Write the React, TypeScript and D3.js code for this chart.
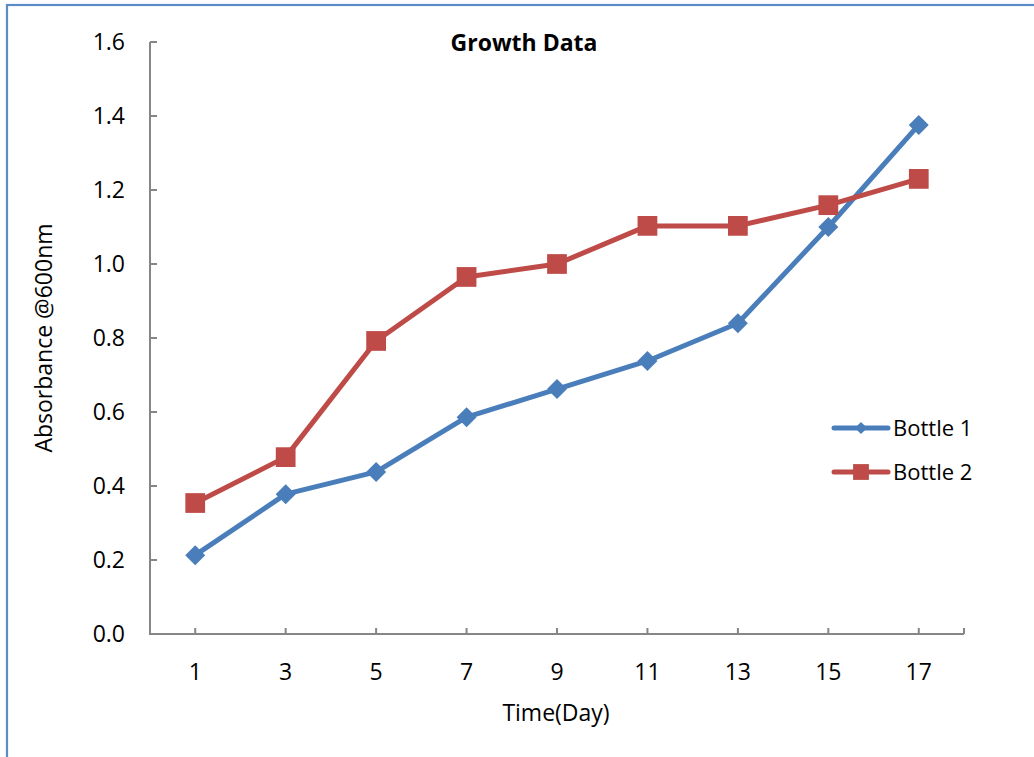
import React, { useRef, useEffect } from 'react';
import * as d3 from 'd3';

const days = ['1', '3', '5', '7', '9', '11', '13', '15', '17'];
const bottle1 = [0.213, 0.378, 0.438, 0.586, 0.662, 0.738, 0.84, 1.1, 1.376];
const bottle2 = [0.354, 0.478, 0.792, 0.965, 1.0, 1.103, 1.103, 1.159, 1.23];
const yTicks = [0, 0.2, 0.4, 0.6, 0.8, 1.0, 1.2, 1.4, 1.6];

const FONT = '"Open Sans", sans-serif';
const BLUE = '#4a7ebb';
const RED = '#be4b48';
const AXIS = '#868686';

const App = () => {
    const chart = useRef<SVGSVGElement>(null);

    useEffect(() => {
        const svg = d3.select(chart.current);
        svg.selectAll('*').remove();

        const left = 150, right = 964, top = 42, bottom = 634;

        // chart border
        svg.append('rect')
            .attr('x', 7).attr('y', 5)
            .attr('width', 1040).attr('height', 800)
            .attr('fill', 'white')
            .attr('stroke', '#5b8bc8')
            .attr('stroke-width', 2.2);

        const x = d3.scaleBand().domain(days).range([left, right]);
        const y = d3.scaleLinear().domain([0, 1.6]).range([bottom, top]);
        const cx = (d: string) => (x(d) as number) + x.bandwidth() / 2;

        // y axis
        const yAxis = svg.append('g');
        yAxis.append('line')
            .attr('x1', left).attr('x2', left)
            .attr('y1', y(1.6)).attr('y2', bottom)
            .attr('stroke', AXIS).attr('stroke-width', 2);
        yAxis.selectAll('.ytick')
            .data(yTicks)
            .enter()
            .append('line')
            .attr('x1', left).attr('x2', left + 7)
            .attr('y1', d => y(d)).attr('y2', d => y(d))
            .attr('stroke', AXIS).attr('stroke-width', 2);
        yAxis.selectAll('.ylab')
            .data(yTicks)
            .enter()
            .append('text')
            .attr('x', 125)
            .attr('y', d => y(d))
            .attr('dy', '0.36em')
            .attr('text-anchor', 'end')
            .style('font-family', FONT)
            .style('font-size', '23px')
            .text(d => d3.format('.1f')(d));

        // x axis
        const xAxis = svg.append('g');
        xAxis.append('line')
            .attr('x1', left - 1).attr('x2', right)
            .attr('y1', bottom).attr('y2', bottom)
            .attr('stroke', AXIS).attr('stroke-width', 2);
        xAxis.selectAll('.xtick')
            .data([...days.map(cx), right])
            .enter()
            .append('line')
            .attr('x1', d => d).attr('x2', d => d)
            .attr('y1', bottom).attr('y2', bottom - 6)
            .attr('stroke', AXIS).attr('stroke-width', 2);
        xAxis.selectAll('.xlab')
            .data(days)
            .enter()
            .append('text')
            .attr('x', d => cx(d))
            .attr('y', 680)
            .attr('text-anchor', 'middle')
            .style('font-family', FONT)
            .style('font-size', '23px')
            .text(d => d);

        // titles
        svg.append('text')
            .attr('x', 524).attr('y', 51)
            .attr('text-anchor', 'middle')
            .style('font-family', FONT)
            .style('font-size', '23px')
            .style('font-weight', 'bold')
            .text('Growth Data');
        svg.append('text')
            .attr('x', 556).attr('y', 721)
            .attr('text-anchor', 'middle')
            .style('font-family', FONT)
            .style('font-size', '23px')
            .text('Time(Day)');
        svg.append('text')
            .attr('transform', 'translate(52,338) rotate(-90)')
            .attr('text-anchor', 'middle')
            .style('font-family', FONT)
            .style('font-size', '23px')
            .text('Absorbance @600nm');

        const series = [
            { name: 'Bottle 1', values: bottle1, color: BLUE, rot: 45, size: 200, legendSize: 75 },
            { name: 'Bottle 2', values: bottle2, color: RED, rot: 0, size: 390, legendSize: 250 },
        ];

        const line = d3.line<number>()
            .x((_, i) => cx(days[i]))
            .y(d => y(d));

        series.forEach((s, k) => {
            svg.append('path')
                .datum(s.values)
                .attr('fill', 'none')
                .attr('stroke', s.color)
                .attr('stroke-width', 5)
                .attr('stroke-linejoin', 'round')
                .attr('d', line);

            const sym = d3.symbol().type(d3.symbolSquare).size(s.size);
            svg.selectAll('.pt' + k)
                .data(s.values)
                .enter()
                .append('path')
                .attr('d', sym)
                .attr('transform', (d, i) => `translate(${cx(days[i])},${y(d)}) rotate(${s.rot})`)
                .attr('fill', s.color);

            // legend
            const ly = 428 + k * 44;
            svg.append('line')
                .attr('x1', 834).attr('x2', 888)
                .attr('y1', ly).attr('y2', ly)
                .attr('stroke', s.color)
                .attr('stroke-width', 5)
                .attr('stroke-linecap', 'round');
            svg.append('path')
                .attr('d', d3.symbol().type(d3.symbolSquare).size(s.legendSize)())
                .attr('transform', `translate(861,${ly}) rotate(${s.rot})`)
                .attr('fill', s.color);
            svg.append('text')
                .attr('x', 893).attr('y', ly)
                .attr('dy', '0.36em')
                .style('font-family', FONT)
                .style('font-size', '22px')
                .text(s.name);
        });
    }, []);

    return (
        <svg ref={chart} width={1034} height={757} style={{ position: 'absolute', left: 0, top: 0 }}></svg>
    );
};

export default App;
